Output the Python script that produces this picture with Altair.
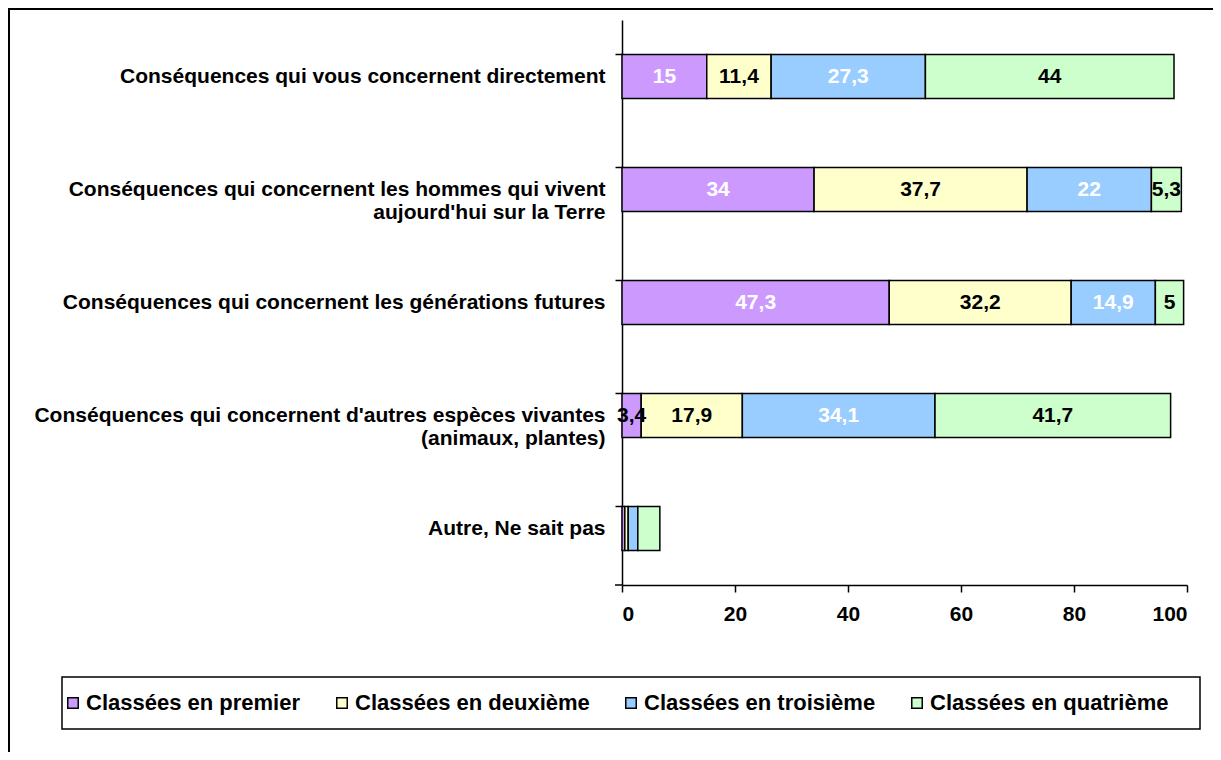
import altair as alt
import pandas as pd

categories = [
    "Conséquences qui vous concernent directement",
    "Conséquences qui concernent les hommes qui vivent\naujourd'hui sur la Terre",
    "Conséquences qui concernent les générations futures",
    "Conséquences qui concernent d'autres espèces vivantes\n(animaux, plantes)",
    "Autre, Ne sait pas",
]
series = ["Classées en premier", "Classées en deuxième", "Classées en troisième", "Classées en quatrième"]
colors = ["#CC99FF", "#FFFFCC", "#99CCFF", "#CCFFCC"]

premier = [15, 34, 47.3, 3.4, 0.5]
deuxieme = [11.4, 37.7, 32.2, 17.9, 0.6]
troisieme = [27.3, 22, 14.9, 34.1, 1.7]
quatrieme = [44, 5.3, 5, 41.7, 3.9]
x_ticks = [0, 20, 40, 60, 80, 100]

rows = []
for s_i, (s, vals) in enumerate(zip(series, [premier, deuxieme, troisieme, quatrieme])):
    for c_i, (c, v) in enumerate(zip(categories, vals)):
        rows.append({"category": c, "series": s, "order": s_i, "value": v, "labelled": c_i < 4})
df = pd.DataFrame(rows)

FONT = "Liberation Sans"

x_scale = alt.Scale(domain=[0, 100], nice=False)
y_scale = alt.Scale(paddingInner=0.61, paddingOuter=0.305)

x_axis = alt.Axis(
    values=x_ticks, title=None,
    labelFont=FONT, labelFontSize=21, labelFontWeight="bold", labelColor="black",
    labelPadding=11, tickSize=7, tickColor="black", tickWidth=1.5,
    domainColor="black", domainWidth=1.5, grid=False,
)
y_axis = alt.Axis(
    title=None,
    labelExpr="split(datum.label, '\\n')",
    labelFont=FONT, labelFontSize=21, labelFontWeight="bold", labelColor="black",
    labelLineHeight=23, labelPadding=10, labelLimit=700,
    tickSize=7, tickColor="black", tickWidth=1.5, bandPosition=0,
    domainColor="black", domainWidth=1.5, grid=False,
)

base = alt.Chart(df).transform_stack(
    stack="value", groupby=["category"], as_=["x0", "x1"], sort=[alt.SortField("order")]
).transform_calculate(mid="(datum.x0 + datum.x1) / 2")

bars = base.mark_bar(stroke="black", strokeWidth=1.5).encode(
    x=alt.X("x0:Q", title=None, scale=x_scale, axis=x_axis),
    x2="x1:Q",
    y=alt.Y("category:N", sort=categories, title=None, scale=y_scale, axis=y_axis),
    color=alt.Color(
        "series:N",
        scale=alt.Scale(domain=series, range=colors),
        legend=alt.Legend(
            title=None, orient="none", direction="horizontal",
            legendX=-560, legendY=672,
            symbolType="square", symbolSize=110, symbolStrokeColor="black",
            symbolStrokeWidth=1.5, symbolOpacity=1,
            labelFont=FONT, labelFontSize=22, labelFontWeight="bold", labelColor="black",
            labelOffset=2, columnPadding=30, padding=0, labelLimit=400,
        ),
    ),
    order=alt.Order("order:Q"),
)

texts = base.transform_filter("datum.labelled").transform_calculate(
    txt="replace(toString(datum.value), '.', ',')"
).mark_text(font=FONT, fontSize=21, fontWeight="bold", baseline="middle", align="center").encode(
    x=alt.X("mid:Q", title=None, scale=x_scale, axis=x_axis),
    y=alt.Y("category:N", sort=categories, title=None, scale=y_scale, axis=y_axis),
    text="txt:N",
    color=alt.condition(
        "(datum.series == 'Classées en premier' || datum.series == 'Classées en troisième') && datum.value >= 5",
        alt.value("white"),
        alt.value("black"),
    ),
)

deco = alt.Chart(pd.DataFrame({"a": [0]}))
frame = deco.mark_rect(fill=None, stroke="black", strokeWidth=2).encode(
    x=alt.value(-613), x2=alt.value(640), y=alt.value(-11), y2=alt.value(760)
)
legend_box = deco.mark_rect(fill=None, stroke="black", strokeWidth=1.5).encode(
    x=alt.value(-560), x2=alt.value(578), y=alt.value(657), y2=alt.value(709)
)
bottom_tick = deco.mark_rule(color="black", strokeWidth=1.5).encode(
    x=alt.value(-7), x2=alt.value(0), y=alt.value(565)
)

chart = alt.layer(frame, legend_box, bars, texts, bottom_tick).properties(
    width=565, height=565,
    autosize=alt.AutoSizeParams(type="none"),
    padding={"left": 614, "top": 12, "right": 26, "bottom": 167},
    background="white",
).configure_view(stroke=None)

chart.save("out.html", embed_options={"renderer": "svg", "actions": False})
